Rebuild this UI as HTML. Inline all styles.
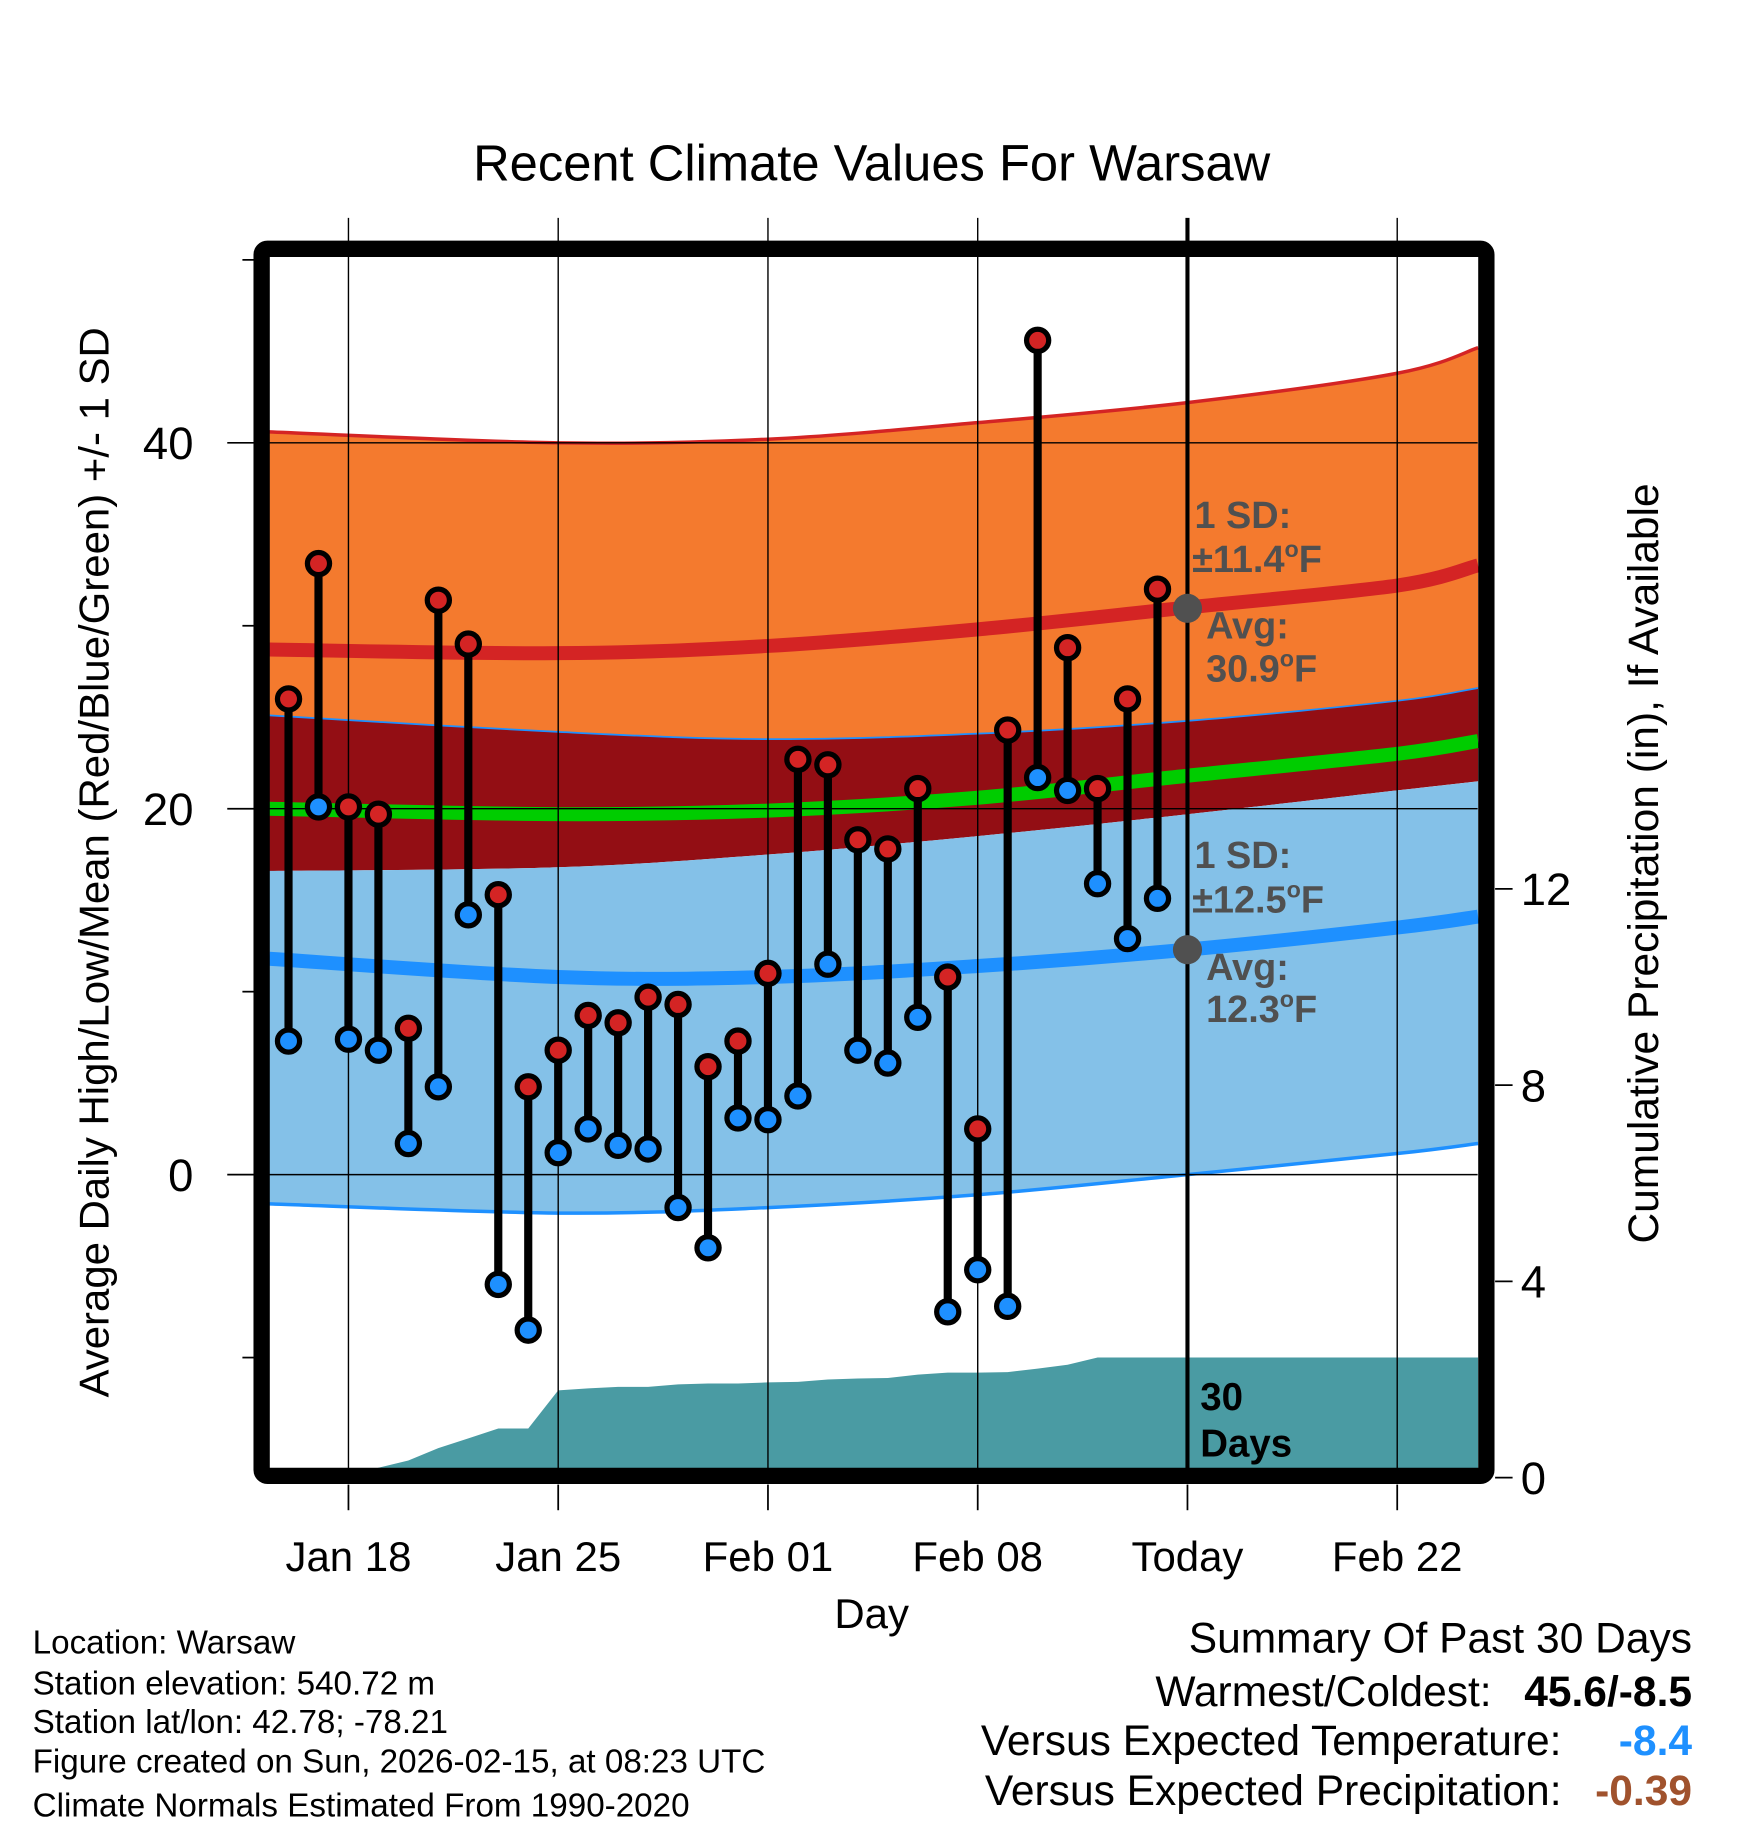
<!DOCTYPE html>
<html><head><meta charset="utf-8"><style>
html,body{margin:0;padding:0;background:#fff;}
svg{display:block;font-family:"Liberation Sans",Arial,sans-serif;}
</style></head><body>
<svg id="chart" xmlns="http://www.w3.org/2000/svg" width="1748" height="1828" viewBox="0 0 1500 1568.7">
<g id="bands"></g>
<g id="precip"></g>
<g id="grid"></g>
<g id="marks"></g>
<g id="frame"></g>
<g id="texts"></g>
</svg>
<script>
// ---- data ----
const dayOffsets = [-2,-1,0,1,2,3,4,5,6,7,8,9,10,11,12,13,14,15,16,17,18,19,20,21,22,23,24,25,26,27];
const highs = [26.0,33.4,20.1,19.7,8.0,31.4,29.0,15.3,4.8,6.8,8.7,8.3,9.7,9.3,5.9,7.3,11.0,22.7,22.4,18.3,17.8,21.1,10.8,2.5,24.3,45.6,28.8,21.1,26.0,32.0];
const lows = [7.3,20.1,7.4,6.8,1.7,4.8,14.2,-6.0,-8.5,1.2,2.5,1.6,1.4,-1.8,-4.0,3.1,3.0,4.3,11.5,6.8,6.1,8.6,-7.5,-5.2,-7.2,21.7,21.0,15.9,12.9,15.1];
const precipDays = [-2,-1,0,1,2,3,4,5,6,7,8,9,10,11,12,13,14,15,16,17,18,19,20,21,22,23,24,25,26,27,28,37.7];
const precipCum = [0,0,0,0.2,0.35,0.6,0.8,1.0,1.0,1.78,1.82,1.85,1.85,1.9,1.92,1.92,1.94,1.95,2.0,2.02,2.03,2.1,2.14,2.14,2.15,2.22,2.3,2.45,2.45,2.45,2.45,2.45];
const normDays = [-2.64,7,14,21,28,35,37.7];
const highUpper = [40.6,40.0,40.2,41.1,42.2,43.8,45.2];
const highMean = [28.7,28.5,28.9,29.8,31.0,32.2,33.3];
const highLower = [25.1,24.2,23.8,24.1,24.8,25.9,26.6];
const meanMean = [20.0,19.7,19.9,20.6,21.8,23.0,23.7];
const lowUpper = [16.6,16.8,17.5,18.5,19.7,21.0,21.5];
const lowMean = [11.8,10.8,10.8,11.4,12.3,13.5,14.1];
const lowLower = [-1.6,-2.1,-1.8,-1.1,0.0,1.15,1.7];
const xTickDays = [0,7,14,21,28,35];
const xTickLabels = ["Jan 18","Jan 25","Feb 01","Feb 08","Today","Feb 22"];
const yTicks = [0,20,40];
const yMinor = [-10,10,30,50];
const pTicks = [0,4,8,12];

// ---- axes ----
const X = d => 299 + d*180/7;
const Y = v => 1008 - 15.7*v;
const P = p => 1268 - 42.1*p;
const L = 231, R = 1268, T = 220, B = 1260;
const NS = "http://www.w3.org/2000/svg";
function mk(parent, tag, attrs){const e=document.createElementNS(NS,tag);for(const k in attrs)e.setAttribute(k,attrs[k]);document.getElementById(parent).appendChild(e);return e;}
// smooth curve through normal points (Catmull-Rom -> cubic Bezier)
function curve(a, rev){
  let p = a.map((v,i)=>[X(normDays[i]),Y(v)]);
  if(rev) p = p.slice().reverse();
  let s = "";
  for(let i=0;i<p.length-1;i++){
    const p0=p[Math.max(i-1,0)], p1=p[i], p2=p[i+1], p3=p[Math.min(i+2,p.length-1)];
    const c1=[p1[0]+(p2[0]-p0[0])/6, p1[1]+(p2[1]-p0[1])/6];
    const c2=[p2[0]-(p3[0]-p1[0])/6, p2[1]-(p3[1]-p1[1])/6];
    s += " C"+c1[0].toFixed(1)+","+c1[1].toFixed(1)+" "+c2[0].toFixed(1)+","+c2[1].toFixed(1)+" "+p2[0].toFixed(1)+","+p2[1].toFixed(1);
  }
  return {start:p[0], segs:s};
}
function linePath(a){const c=curve(a,false);return "M"+c.start[0]+","+c.start[1]+c.segs;}
function bandPath(top,bot){const c1=curve(top,false),c2=curve(bot,true);return "M"+c1.start[0]+","+c1.start[1]+c1.segs+" L"+c2.start[0]+","+c2.start[1]+c2.segs+" Z";}

let e;
e = mk("bands","path",{d:bandPath(highUpper,highLower),fill:"#f47a2e"});


e = mk("bands","path",{d:linePath(highUpper),fill:"none",stroke:"#d42424","stroke-width":3});


e = mk("bands","path",{d:bandPath(highLower,lowUpper),fill:"#930e14"});


e = mk("bands","path",{d:bandPath(lowUpper,lowLower),fill:"#84c1e8"});


e = mk("bands","path",{d:linePath(highLower),fill:"none",stroke:"#1e90ff","stroke-width":1.5});


e = mk("bands","path",{d:linePath(lowLower),fill:"none",stroke:"#1e90ff","stroke-width":3});


e = mk("bands","path",{d:linePath(highMean),fill:"none",stroke:"#d42424","stroke-width":12});


e = mk("bands","path",{d:linePath(meanMean),fill:"none",stroke:"#00cc00","stroke-width":12});


e = mk("bands","path",{d:linePath(lowMean),fill:"none",stroke:"#1e90ff","stroke-width":12});



// precip
let pts = [X(precipDays[0])+","+P(0)];
precipDays.forEach((d,i)=>pts.push(X(d).toFixed(1)+","+P(precipCum[i]).toFixed(1)));
pts.push(X(precipDays[precipDays.length-1])+","+P(0));
e = mk("precip","polygon",{points:pts.join(" "),fill:"#4a9ba3"});



// grid
xTickDays.forEach((d,i)=>{
  const x=X(d);
  const g = mk("grid","line",{x1:x,x2:x,y1:187,y2:B,stroke:"#000","stroke-width":d===28?3.5:1.2});
  
  
  const t = mk("grid","line",{x1:x,x2:x,y1:1274,y2:1296,stroke:"#000","stroke-width":1.5});
  
  
  const lb = mk("texts","text",{x:x,y:1348,"font-size":36,"text-anchor":"middle"});
  lb.textContent = xTickLabels[i];
  
  
});
yTicks.forEach(v=>{
  const g = mk("grid","line",{x1:L,x2:R,y1:Y(v),y2:Y(v),stroke:"#000","stroke-width":1.2});
  
  
  const t = mk("grid","line",{x1:195,x2:218,y1:Y(v),y2:Y(v),stroke:"#000","stroke-width":1.5});
  
  
  const lb = mk("texts","text",{x:166,y:Y(v)+14,"font-size":39,"text-anchor":"end"});
  lb.textContent = v;
  
  
});
yMinor.forEach(v=>{
  const t = mk("grid","line",{x1:208,x2:218,y1:Y(v),y2:Y(v),stroke:"#000","stroke-width":1.5});
  
  
});
pTicks.forEach(p=>{
  const t = mk("grid","line",{x1:1283,x2:1298,y1:P(p),y2:P(p),stroke:"#000","stroke-width":1.5});
  
  
  const lb = mk("texts","text",{x:1305,y:P(p)+14,"font-size":39});
  lb.textContent = p;
  
  
});

// daily marks
dayOffsets.forEach((d,i)=>{
  const x=X(d);
  const s = mk("marks","line",{x1:x,x2:x,y1:Y(highs[i]),y2:Y(lows[i]),stroke:"#000","stroke-width":7});
  
  
  const h = mk("marks","circle",{cx:x,cy:Y(highs[i]),r:9.5,fill:"#d42424",stroke:"#000","stroke-width":4.5});
  
  
  const l = mk("marks","circle",{cx:x,cy:Y(lows[i]),r:9.5,fill:"#1e90ff",stroke:"#000","stroke-width":4.5});
  
  
});
</script>
<script>
(function(){
const NS="http://www.w3.org/2000/svg";
const f=document.createElementNS(NS,"rect");
f.setAttribute("x",224.5);f.setAttribute("y",213.5);f.setAttribute("width",1051);f.setAttribute("height",1053);
f.setAttribute("rx",5);f.setAttribute("fill","none");f.setAttribute("stroke","#000");f.setAttribute("stroke-width",14);


document.getElementById("frame").appendChild(f);
const dots=[[1019,522],[1019,815]];
dots.forEach(p=>{const c=document.createElementNS(NS,"circle");c.setAttribute("cx",p[0]);c.setAttribute("cy",p[1]);c.setAttribute("r",12.5);c.setAttribute("fill","#505050");


document.getElementById("frame").appendChild(c);});
})();
</script>
<script>
(function(){
const svg=document.getElementById("texts");
svg.insertAdjacentHTML("beforeend",`
<text x="748" y="155" font-size="43.5" text-anchor="middle">Recent Climate Values For Warsaw</text>
<text transform="translate(93,740) rotate(-90)" font-size="36" text-anchor="middle">Average Daily High/Low/Mean (Red/Blue/Green) +/- 1 SD</text>
<text transform="translate(1423,741) rotate(-90)" font-size="36.5" text-anchor="middle">Cumulative Precipitation (in), If Available</text>
<text x="748" y="1397" font-size="36" text-anchor="middle">Day</text>
<g fill="#505050" font-weight="bold" font-size="32.5">
<text x="1025" y="453">1 SD:</text>
<text x="1023" y="491">±11.4<tspan font-size="20" dy="-13">o</tspan><tspan dy="13">F</tspan></text>
<text x="1035" y="548">Avg:</text>
<text x="1035" y="585">30.9<tspan font-size="20" dy="-13">o</tspan><tspan dy="13">F</tspan></text>
</g>
<g fill="#505050" font-weight="bold" font-size="32.5">
<text x="1025" y="745">1 SD:</text>
<text x="1023" y="783">±12.5<tspan font-size="20" dy="-13">o</tspan><tspan dy="13">F</tspan></text>
<text x="1035" y="841">Avg:</text>
<text x="1035" y="877">12.3<tspan font-size="20" dy="-13">o</tspan><tspan dy="13">F</tspan></text>
</g>
<text x="1030" y="1210" font-size="33" font-weight="bold">30</text>
<text x="1030" y="1250" font-size="33" font-weight="bold">Days</text>
<g font-size="28.5">
<text x="28" y="1419">Location: Warsaw</text>
<text x="28" y="1454">Station elevation: 540.72 m</text>
<text x="28" y="1487">Station lat/lon: 42.78; -78.21</text>
<text x="28" y="1521">Figure created on Sun, 2026-02-15, at 08:23 UTC</text>
<text x="28" y="1559">Climate Normals Estimated From 1990-2020</text>
</g>
<g font-size="36.5">
<text x="1452" y="1418" text-anchor="end">Summary Of Past 30 Days</text>
<text x="1280" y="1464" text-anchor="end">Warmest/Coldest:</text>
<text x="1452" y="1464" text-anchor="end" font-weight="bold">45.6/-8.5</text>
<text x="1340" y="1506" text-anchor="end">Versus Expected Temperature:</text>
<text x="1452" y="1506" text-anchor="end" font-weight="bold" fill="#1e90ff">-8.4</text>
<text x="1340" y="1549" text-anchor="end">Versus Expected Precipitation:</text>
<text x="1452" y="1549" text-anchor="end" font-weight="bold" fill="#a0522d">-0.39</text>
</g>`);
})();
</script>
</body></html>
